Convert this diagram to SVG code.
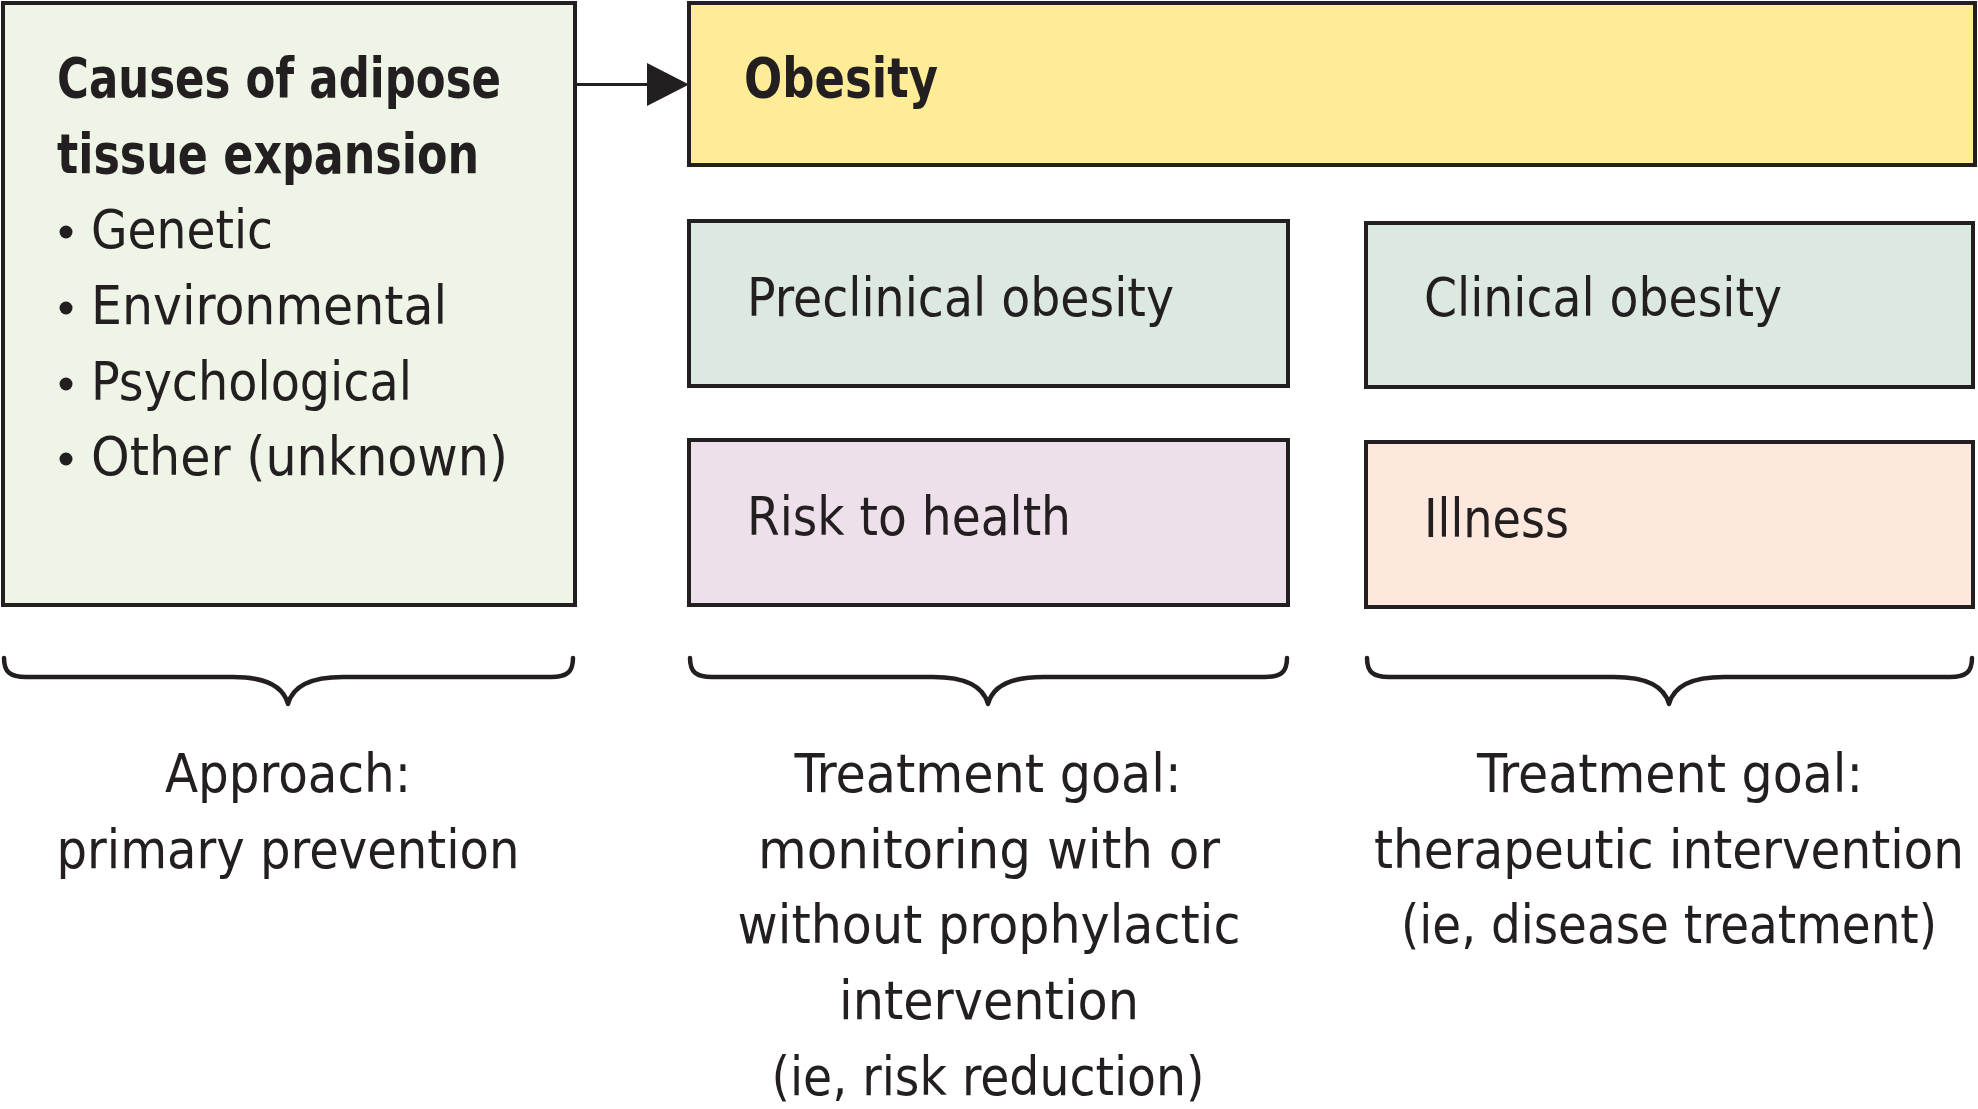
<svg xmlns="http://www.w3.org/2000/svg" width="1978" height="1109" viewBox="0 0 1978 1109">
<defs>
<style>
.box{stroke:#231f20;stroke-width:4}
.t{font-family:"Liberation Sans Narrow","DejaVu Sans Condensed","Liberation Sans",sans-serif;font-size:54px;fill:#231f20}
.b{font-weight:bold;font-size:56px}
.c{text-anchor:middle}
.brace{fill:none;stroke:#231f20;stroke-width:4.5;stroke-linecap:round;stroke-linejoin:round}
</style>
</defs>
<rect width="1978" height="1109" fill="#ffffff"/>
<g id="causes">
<rect class="box" x="3" y="3" width="572" height="602" fill="#eef4e6"/>
<text class="t b" x="57" y="97" textLength="444" lengthAdjust="spacingAndGlyphs">Causes of adipose</text>
<text class="t b" x="57" y="173" textLength="422" lengthAdjust="spacingAndGlyphs">tissue expansion</text>
<circle cx="66" cy="232" r="6.5" fill="#231f20"/>
<text class="t" x="91" y="248" textLength="182" lengthAdjust="spacingAndGlyphs">Genetic</text>
<circle cx="66" cy="308" r="6.5" fill="#231f20"/>
<text class="t" x="91" y="324" textLength="356" lengthAdjust="spacingAndGlyphs">Environmental</text>
<circle cx="66" cy="384" r="6.5" fill="#231f20"/>
<text class="t" x="91" y="400" textLength="321" lengthAdjust="spacingAndGlyphs">Psychological</text>
<circle cx="66" cy="459" r="6.5" fill="#231f20"/>
<text class="t" x="91" y="475" textLength="417" lengthAdjust="spacingAndGlyphs">Other (unknown)</text>
</g>
<g id="obesity">
<rect class="box" x="689" y="3" width="1286" height="162" fill="#feec97"/>
<text class="t b" x="744" y="97" textLength="194" lengthAdjust="spacingAndGlyphs">Obesity</text>
</g>
<g id="preclinical">
<rect class="box" x="689" y="221" width="599" height="165" fill="#dce9e1"/>
<text class="t" x="747" y="316" textLength="427" lengthAdjust="spacingAndGlyphs">Preclinical obesity</text>
</g>
<g id="clinical">
<rect class="box" x="1366" y="223" width="607" height="164" fill="#dce9e1"/>
<text class="t" x="1424" y="316" textLength="358" lengthAdjust="spacingAndGlyphs">Clinical obesity</text>
</g>
<g id="risk">
<rect class="box" x="689" y="440" width="599" height="165" fill="#ede0ea"/>
<text class="t" x="747" y="535" textLength="324" lengthAdjust="spacingAndGlyphs">Risk to health</text>
</g>
<g id="illness">
<rect class="box" x="1366" y="442" width="607" height="165" fill="#fde8dd"/>
<text class="t" x="1424" y="537" textLength="145" lengthAdjust="spacingAndGlyphs">Illness</text>
</g>
<g id="connectors">
<line x1="575" y1="84.5" x2="648" y2="84.5" stroke="#231f20" stroke-width="3"/>
<path d="M647,63 L689,84.5 L647,106 z" fill="#231f20"/>
<path class="brace" d="M4,658 C4,672 10,677 26,677 L233,677 C263,677 283,685 288,704 C293,685 313,677 343,677 L551,677 C567,677 573,672 573,658"/>
<path class="brace" d="M690,658 C690,672 696,677 712,677 L933,677 C963,677 983,685 988,704 C993,685 1013,677 1043,677 L1265,677 C1281,677 1287,672 1287,658"/>
<path class="brace" d="M1367,658 C1367,672 1373,677 1389,677 L1614,677 C1644,677 1664,685 1669,704 C1674,685 1694,677 1724,677 L1950,677 C1966,677 1972,672 1972,658"/>
</g>
<g id="labels">
<text class="t c" x="288" y="792" textLength="246" lengthAdjust="spacingAndGlyphs">Approach:</text>
<text class="t c" x="288" y="868" textLength="463" lengthAdjust="spacingAndGlyphs">primary prevention</text>
<text class="t c" x="988" y="792" textLength="387" lengthAdjust="spacingAndGlyphs">Treatment goal:</text>
<text class="t c" x="989" y="868" textLength="462" lengthAdjust="spacingAndGlyphs">monitoring with or</text>
<text class="t c" x="989" y="943" textLength="503" lengthAdjust="spacingAndGlyphs">without prophylactic</text>
<text class="t c" x="989" y="1019" textLength="300" lengthAdjust="spacingAndGlyphs">intervention</text>
<text class="t c" x="988" y="1095" textLength="433" lengthAdjust="spacingAndGlyphs">(ie, risk reduction)</text>
<text class="t c" x="1670" y="792" textLength="386" lengthAdjust="spacingAndGlyphs">Treatment goal:</text>
<text class="t c" x="1669" y="868" textLength="590" lengthAdjust="spacingAndGlyphs">therapeutic intervention</text>
<text class="t c" x="1669" y="943" textLength="536" lengthAdjust="spacingAndGlyphs">(ie, disease treatment)</text>
</g>
</svg>
